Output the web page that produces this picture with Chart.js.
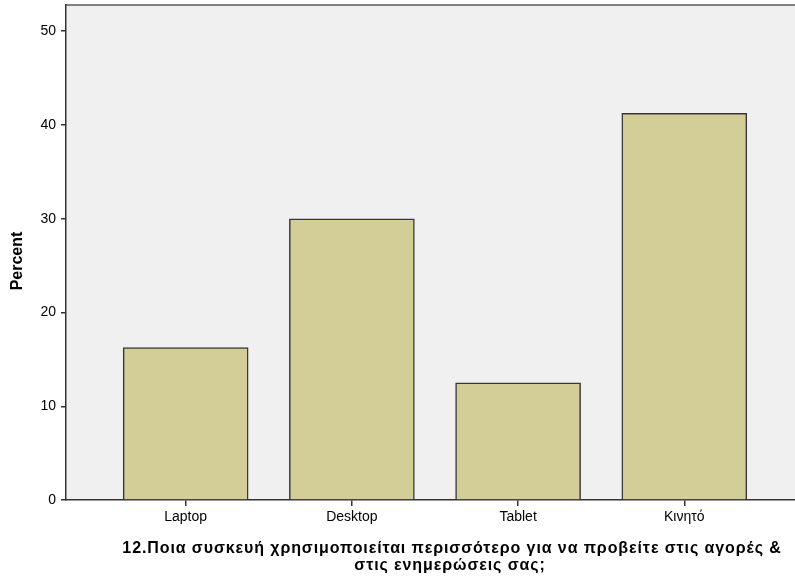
<!DOCTYPE html>
<html>
<head>
<meta charset="utf-8">
<script src="https://cdn.jsdelivr.net/npm/chart.js@4/dist/chart.umd.min.js"></script>
<style>
  html, body { margin: 0; padding: 0; background: #ffffff; }
  #wrap { width: 795px; height: 582px; }
</style>
</head>
<body>
<div id="wrap"><canvas id="c" width="795" height="582"></canvas></div>
<script>
const categories = ['Laptop', 'Desktop', 'Tablet', 'Κινητό'];
const percents = [16.25, 30.0, 12.5, 41.25];
const yTickValues = [0, 10, 20, 30, 40, 50];
const xTitle = ['12.Ποια συσκευή χρησιμοποιείται περισσότερο για να προβείτε στις αγορές &', 'στις ενημερώσεις σας;'];
const yTitle = 'Percent';

const plotBg = {
  id: 'plotBg',
  beforeDraw(chart) {
    const { ctx, chartArea: a } = chart;
    ctx.save();
    ctx.fillStyle = '#f0f0f0';
    ctx.fillRect(a.left, a.top, a.right - a.left, a.bottom - a.top);
    ctx.strokeStyle = '#808080';
    ctx.lineWidth = 2;
    ctx.beginPath();
    ctx.moveTo(a.left, a.top);
    ctx.lineTo(a.right, a.top);
    ctx.stroke();
    ctx.restore();
  },
  afterDraw(chart) {
    const { ctx } = chart;
    ctx.save();
    ctx.fillStyle = '#000';
    ctx.textAlign = 'center';
    ctx.textBaseline = 'middle';
    ctx.font = 'bold 16px "Liberation Sans", Arial, sans-serif';
    if ('letterSpacing' in ctx) ctx.letterSpacing = '0.9px';
    ctx.fillText(xTitle[0], 452, 549);
    ctx.fillText(xTitle[1], 450, 566);
    if ('letterSpacing' in ctx) ctx.letterSpacing = '0px';
    ctx.font = 'bold 16px "Liberation Sans", Arial, sans-serif';
    ctx.translate(18, 261);
    ctx.rotate(-Math.PI / 2);
    ctx.fillText(yTitle, 0, 0);
    ctx.restore();
  }
};

new Chart(document.getElementById('c'), {
  type: 'bar',
  data: {
    datasets: [{
      data: percents.map((v, i) => ({ x: i, y: v })),
      backgroundColor: '#d3ce98',
      borderColor: '#383838',
      borderWidth: 1.5,
      barThickness: 125
    }]
  },
  options: {
    responsive: false,
    animation: false,
    layout: { padding: { top: 5, right: 0, left: 0, bottom: 0 } },
    plugins: { legend: { display: false }, tooltip: { enabled: false }, title: { display: false } },
    scales: {
      x: {
        type: 'linear',
        offset: false,
        min: -0.72,
        max: 3.666,
        afterBuildTicks: (s) => { s.ticks = categories.map((c, i) => ({ value: i })); },
        afterFit: (s) => { s.height = 82; s.paddingLeft = 0; s.paddingRight = 0; },
        ticks: {
          callback: (v) => categories[v] ?? '',
          color: '#000',
          font: { family: '"Liberation Sans", Arial', size: 14 },
          padding: 3,
          maxRotation: 0,
          autoSkip: false
        },
        grid: { offset: false, drawOnChartArea: false, drawTicks: true, tickLength: 6, color: '#333', lineWidth: 1.5 },
        border: { color: '#333', width: 1.5 },
        title: { display: false }
      },
      y: {
        min: 0,
        max: 52.8,
        afterBuildTicks: (s) => { s.ticks = yTickValues.map(v => ({ value: v })); },
        afterFit: (s) => { s.width = 66; s.paddingTop = 0; s.paddingBottom = 0; },
        ticks: {
          color: '#000',
          font: { family: '"Liberation Sans", Arial', size: 14 },
          padding: 5
        },
        grid: { drawOnChartArea: false, drawTicks: true, tickLength: 5, color: '#333', lineWidth: 1.5 },
        border: { color: '#333', width: 1.5 },
        title: { display: false }
      }
    }
  },
  plugins: [plotBg]
});
</script>
</body>
</html>
